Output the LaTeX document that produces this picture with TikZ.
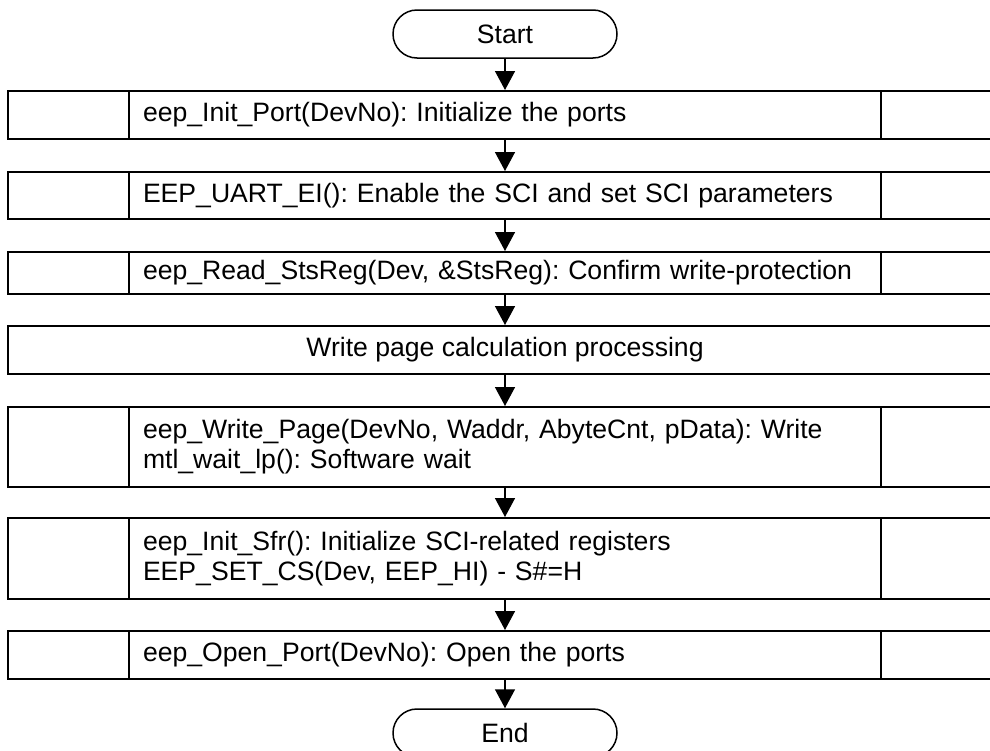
\documentclass[tikz,border=0pt]{standalone}
\usepackage{fontspec}
\setmainfont{Liberation Sans}
\usetikzlibrary{arrows.meta}
\begin{document}
\frenchspacing
\begin{tikzpicture}[x=1pt,y=-1pt,
  every node/.style={font=\fontsize{26.6}{30}\selectfont},
  term/.style={draw, line width=1.5pt, rounded corners=24pt, minimum width=224pt, minimum height=48pt, inner sep=0pt},
  proc/.style={draw, line width=1.5pt, minimum width=752pt, text width=724pt, inner xsep=14pt, inner ysep=0pt, align=left, anchor=north},
  side/.style={draw, line width=1.5pt, minimum width=121pt, inner sep=0pt, anchor=north},
  wide/.style={draw, line width=1.5pt, minimum width=994pt, inner sep=0pt, align=center, anchor=north},
  arr/.style={line width=1.5pt, -{Triangle[length=19pt, width=20pt]}}
]
\clip (0,0) rectangle (990,750);
\fill[white] (0,0) rectangle (990,750);

% terminators
\node[term] (start) at (505,34) {Start};
\node[term] (end) at (505,733) {End};

% process steps with side cells
\node[proc, minimum height=48pt] (b1) at (505,90) {eep\_Init\_Port(DevNo): Initialize the ports};
\node[side, minimum height=48pt] (b1l) at (68.5,90) {};
\node[side, minimum height=48pt] (b1r) at (941.5,90) {};

\node[proc, minimum height=47pt] (b2) at (505,171) {EEP\_UART\_EI(): Enable the SCI and set SCI parameters};
\node[side, minimum height=47pt] (b2l) at (68.5,171) {};
\node[side, minimum height=47pt] (b2r) at (941.5,171) {};

\node[proc, minimum height=42pt] (b3) at (505,251) {eep\_Read\_StsReg(Dev, \&StsReg): Confirm write-protection};
\node[side, minimum height=42pt] (b3l) at (68.5,251) {};
\node[side, minimum height=42pt] (b3r) at (941.5,251) {};

\node[wide, minimum height=48pt] (b4) at (505,325) {Write page calculation processing};

\node[proc, minimum height=80pt] (b5) at (505,406) {eep\_Write\_Page(DevNo, Waddr, AbyteCnt, pData): Write\\mtl\_wait\_lp(): Software wait};
\node[side, minimum height=80pt] (b5l) at (68.5,406) {};
\node[side, minimum height=80pt] (b5r) at (941.5,406) {};

\node[proc, minimum height=81pt] (b6) at (505,517) {eep\_Init\_Sfr(): Initialize SCI-related registers\\EEP\_SET\_CS(Dev, EEP\_HI) - S\#=H};
\node[side, minimum height=81pt] (b6l) at (68.5,517) {};
\node[side, minimum height=81pt] (b6r) at (941.5,517) {};

\node[proc, minimum height=48pt] (b7) at (505,630) {eep\_Open\_Port(DevNo): Open the ports};
\node[side, minimum height=48pt] (b7l) at (68.5,630) {};
\node[side, minimum height=48pt] (b7r) at (941.5,630) {};

% flow
\draw[arr] (start) -- (b1);
\draw[arr] (b1) -- (b2);
\draw[arr] (b2) -- (b3);
\draw[arr] (b3) -- (b4);
\draw[arr] (b4) -- (b5);
\draw[arr] (b5) -- (b6);
\draw[arr] (b6) -- (b7);
\draw[arr] (b7) -- (end);
\end{tikzpicture}
\end{document}
